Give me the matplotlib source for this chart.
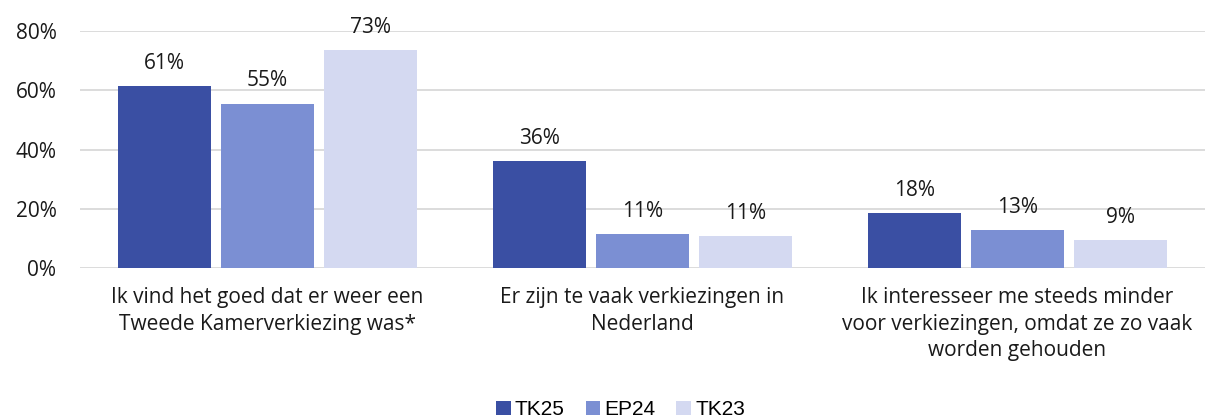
import numpy as np
import matplotlib.pyplot as plt
from matplotlib.patches import Patch

plt.rcParams['font.family'] = ['Open Sans', 'DejaVu Sans']

categories = [
    "Ik vind het goed dat er weer een\nTweede Kamerverkiezing was*",
    "Er zijn te vaak verkiezingen in\nNederland",
    "Ik interesseer me steeds minder\nvoor verkiezingen, omdat ze zo vaak\nworden gehouden",
]
series = ["TK25", "EP24", "TK23"]
tk25 = [61.4, 36.1, 18.5]
ep24 = [55.4, 11.4, 12.8]
tk23 = [73.5, 10.8, 9.3]
labels_tk25 = ["61%", "36%", "18%"]
labels_ep24 = ["55%", "11%", "13%"]
labels_tk23 = ["73%", "11%", "9%"]
colors = ["#3A4FA3", "#7B8FD3", "#D4D9F1"]

FS = 15
TXT = "#1a1a1a"

fig = plt.figure(figsize=(12.05, 4.19), dpi=100)
ax = fig.add_axes([80 / 1205, 1 - 268 / 419, 1 - 80 / 1205, 237 / 419])

x = np.arange(len(categories))
width = 0.248
step = 0.275
for i, (vals, labs) in enumerate(zip([tk25, ep24, tk23], [labels_tk25, labels_ep24, labels_tk23])):
    bars = ax.bar(x + (i - 1) * step, vals, width, color=colors[i], zorder=3)
    for b, lab in zip(bars, labs):
        ax.annotate(lab, (b.get_x() + b.get_width() / 2, b.get_height()),
                    xytext=(0, 9), textcoords="offset points",
                    ha="center", va="bottom", fontsize=FS, color=TXT)

ax.set_xlim(-0.5, 2.5)
ax.set_ylim(0, 80)
ax.set_yticks([0, 20, 40, 60, 80])
ax.set_yticklabels(["0%", "20%", "40%", "60%", "80%"], fontsize=FS, color=TXT)
ax.set_xticks(x)
ax.set_xticklabels(categories, fontsize=FS, color=TXT, linespacing=1.32)
ax.tick_params(axis="both", length=0)
ax.tick_params(axis="y", pad=17)
ax.tick_params(axis="x", pad=14)
ax.grid(axis="y", color="#D9D9D9", linewidth=1.3, zorder=0)
for s in ax.spines.values():
    s.set_visible(False)

handles = [Patch(facecolor=c) for c in colors]
fig.legend(handles, series, loc="center", bbox_to_anchor=(0.515, 0.022), ncol=3,
           frameon=False, prop={"family": ["Liberation Sans"], "size": 15},
           handlelength=0.7, handleheight=0.7, handletextpad=0.2, columnspacing=1.0)

fig.savefig("out.png", dpi=100)
